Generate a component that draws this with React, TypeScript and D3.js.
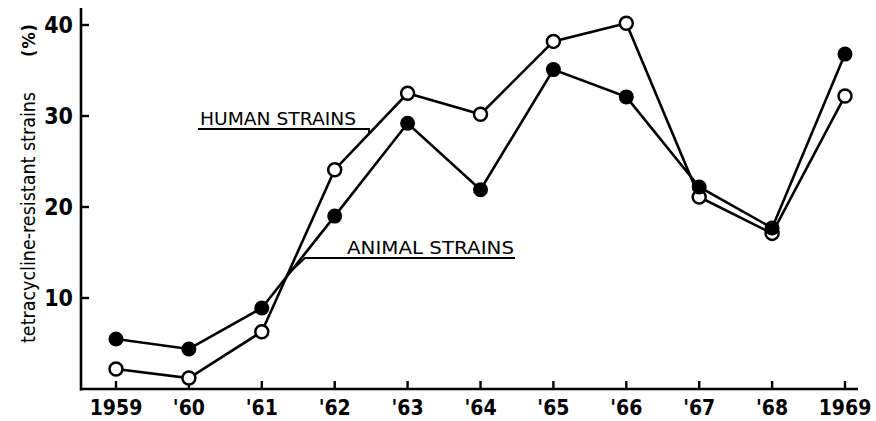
import React from 'react';
import * as d3 from 'd3';

const years = ['1959', "'60", "'61", "'62", "'63", "'64", "'65", "'66", "'67", "'68", '1969'];
const humanStrains = [2.2, 1.2, 6.3, 24.1, 32.5, 30.2, 38.2, 40.2, 21.1, 17.1, 32.2];
const animalStrains = [5.5, 4.4, 8.9, 19.0, 29.2, 21.9, 35.1, 32.1, 22.2, 17.7, 36.8];
const yTicks = [10, 20, 30, 40];

const W = 876;
const H = 421;
const ink = '#000';
const tickFont = '"DejaVu Sans Condensed", "DejaVu Sans", sans-serif';
const labelFont = '"DejaVu Sans", sans-serif';

export default function App() {
  const x = d3.scalePoint<string>().domain(years).range([116, 845]);
  const y = d3.scaleLinear().domain([0, 40]).range([389, 25]);

  const line = d3.line<number>()
    .x((d, i) => x(years[i]) as number)
    .y((d) => y(d));

  const axisY = y(0);

  // leader line ends on the series lines
  const hx = 369;
  const ax = 290;
  const lerp = (vals: number[], i: number, px: number) => {
    const x0 = x(years[i]) as number, x1 = x(years[i + 1]) as number;
    return y(vals[i]) + (y(vals[i + 1]) - y(vals[i])) * (px - x0) / (x1 - x0);
  };
  const hy = lerp(humanStrains, 3, hx);
  const ay = lerp(animalStrains, 2, ax);

  return (
    <svg width={W} height={H} style={{ position: 'absolute', left: 0, top: 0, background: '#fff' }}>
      {/* axes */}
      <line x1={81} x2={81} y1={8} y2={axisY + 1.5} stroke={ink} strokeWidth={2.6} />
      <line x1={80} x2={858} y1={axisY} y2={axisY} stroke={ink} strokeWidth={2.6} />
      {yTicks.map((t) => (
        <g key={'y' + t}>
          <line x1={81} x2={89} y1={y(t)} y2={y(t)} stroke={ink} strokeWidth={2.4} />
          <text x={73} y={y(t) + 8} textAnchor="end" fontFamily={tickFont} fontWeight="bold"
            fontSize={23} fill={ink}>{t}</text>
        </g>
      ))}
      {years.map((yr) => (
        <g key={'x' + yr}>
          <line x1={x(yr)} x2={x(yr)} y1={axisY} y2={axisY - 8} stroke={ink} strokeWidth={2.4} />
          <text x={x(yr)} y={415} textAnchor="middle" fontFamily={tickFont} fontWeight="bold"
            fontSize={21} fill={ink}>{yr}</text>
        </g>
      ))}

      {/* axis title */}
      <g transform="translate(35,0) rotate(-90)">
        <text x={-343} y={0} fontFamily={tickFont} fontSize={19} fill={ink}
          textLength={251} lengthAdjust="spacingAndGlyphs">tetracycline-resistant  strains</text>
        <text x={-57} y={0} fontFamily={tickFont} fontSize={18} fontWeight="bold" fill={ink}
          textLength={33} lengthAdjust="spacing">(%)</text>
      </g>

      {/* series lines */}
      <path d={line(humanStrains) || ''} fill="none" stroke={ink} strokeWidth={2.6} />
      <path d={line(animalStrains) || ''} fill="none" stroke={ink} strokeWidth={2.6} />

      {/* labels */}
      <text x={200} y={125} fontFamily={labelFont} fontSize={18} fill={ink}
        textLength={156} lengthAdjust="spacingAndGlyphs">HUMAN STRAINS</text>
      <polyline points={`198,129 ${hx},129 ${hx},${hy}`} fill="none" stroke={ink} strokeWidth={1.8} />
      <text x={347} y={254} fontFamily={labelFont} fontSize={18} fill={ink}
        textLength={167} lengthAdjust="spacingAndGlyphs">ANIMAL STRAINS</text>
      <polyline points={`${ax},${ay} 305,258 515,258`} fill="none" stroke={ink} strokeWidth={1.8} />

      {/* markers */}
      {humanStrains.map((v, i) => (
        <circle key={'h' + i} cx={x(years[i])} cy={y(v)} r={6.5} fill="#fff" stroke={ink} strokeWidth={2.5} />
      ))}
      {animalStrains.map((v, i) => (
        <circle key={'a' + i} cx={x(years[i])} cy={y(v)} r={7.5} fill={ink} />
      ))}
    </svg>
  );
}
